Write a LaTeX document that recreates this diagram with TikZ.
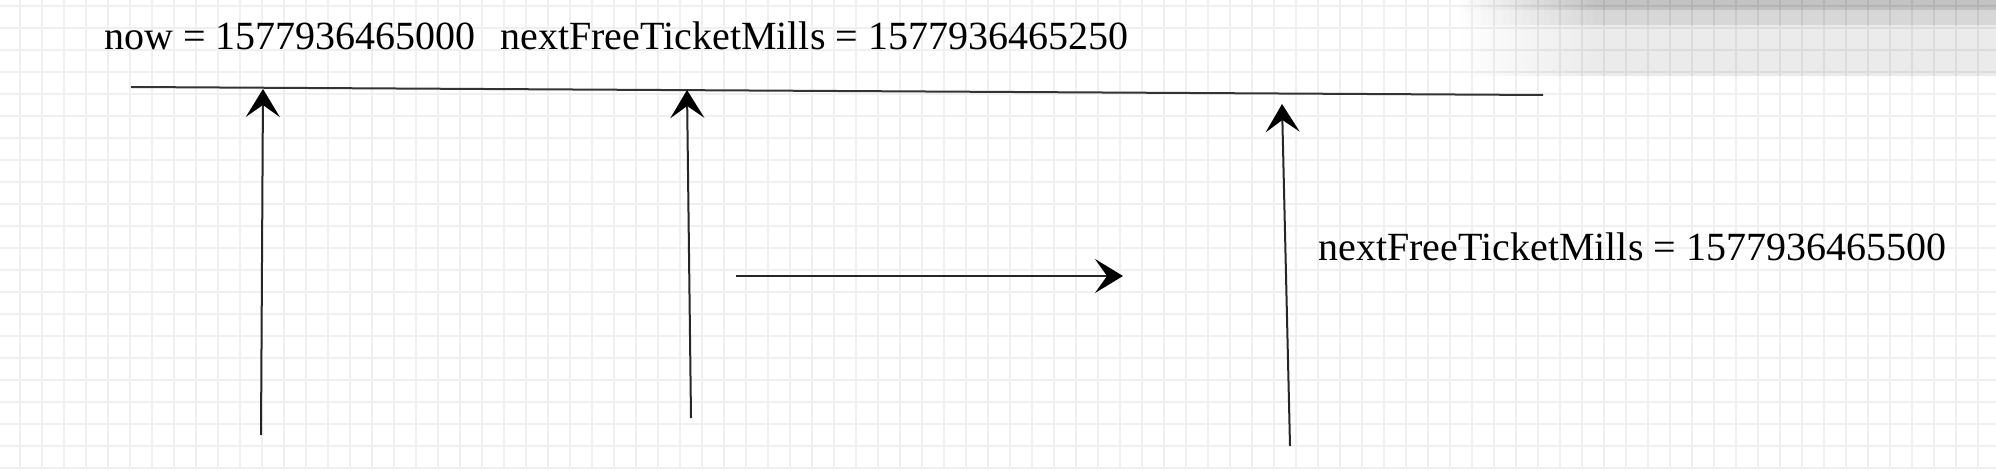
\documentclass[tikz,border=0pt]{standalone}
\usepackage{fontspec}
\setmainfont{Liberation Serif}
\usetikzlibrary{arrows.meta,fadings}
\begin{document}
\begin{tikzpicture}[x=0.5pt,y=-0.5pt,
  gridline/.style={draw=black!6,line width=1pt},
  timeline/.style={draw=black!80,line width=1pt},
  arrowline/.style={draw=black!85,line width=1pt,-{Stealth[length=14pt,width=17pt,inset=6pt,color=black]}},
  lbl/.style={inner sep=0pt,font=\fontsize{20pt}{24pt}\selectfont,text=black}]
\useasboundingbox (0,0) rectangle (1996,470);
\fill[white] (0,0) rectangle (1996,470);
\begin{scope}
\clip (0,0) rectangle (1996,470);
\foreach \x in {20,42,...,1996} \draw[gridline] (\x,0) -- (\x,470);
\foreach \y in {6,28,...,470} \draw[gridline] (0,\y) -- (1996,\y);
\foreach \i in {0,...,19} {
  \fill[black,fill opacity=0.009,path fading=south] (1460+\i*7,0) rectangle (2000,100);
  \fill[black,fill opacity=0.004] (1460+\i*7,0) rectangle (2000,10);
}
\end{scope}
% labels
\node[lbl,anchor=base west] (now) at (104,50) {now = 1577936465000};
\node[lbl,anchor=base west] (nft1) at (500,50) {nextFreeTicketMills = 1577936465250};
\node[lbl,anchor=base west] (nft2) at (1318,261) {nextFreeTicketMills = 1577936465500};
% timeline
\coordinate (tl0) at (131,87);
\coordinate (tl1) at (1543,95);
\draw[timeline] (tl0) -- (tl1);
% vertical arrows
\coordinate (a1s) at (261,435);
\coordinate (a1e) at (263,89);
\coordinate (a2s) at (691,418);
\coordinate (a2e) at (687,90);
\coordinate (a3s) at (1290,446);
\coordinate (a3e) at (1282,104);
\draw[arrowline] (a1s) -- (a1e);
\draw[arrowline] (a2s) -- (a2e);
\draw[arrowline] (a3s) -- (a3e);
% horizontal arrow
\coordinate (hs) at (736,276);
\coordinate (he) at (1123,276);
\draw[arrowline] (hs) -- (he);
\end{tikzpicture}
\end{document}
